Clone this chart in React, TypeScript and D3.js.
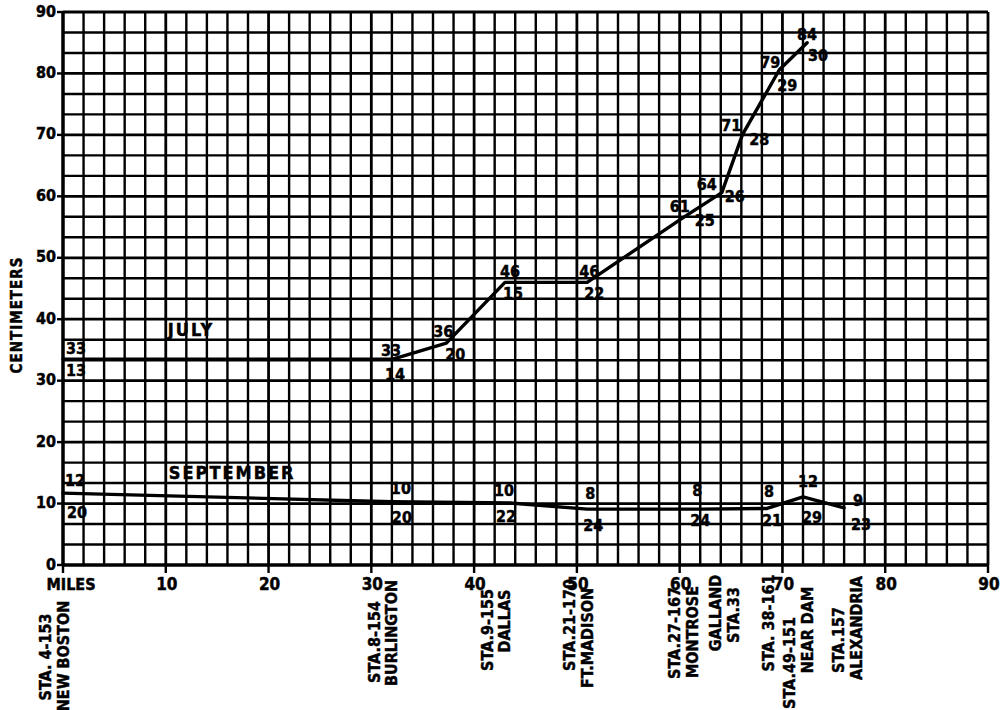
import React from "react";
import * as d3 from "d3";

// ---- Data ----
const julyMiles = [0, 32.1, 37.3, 43, 51, 60.3, 64.1, 66.1, 69.7, 72.4];
const julyCm = [33.5, 33.5, 36.1, 46, 46, 56.5, 60.6, 70, 80.6, 85];
const julyTopLabels = ["33", "33", "36", "46", "46", "61", "64", "71", "79", "84"];
const julyBottomLabels = ["13", "14", "20", "15", "22", "25", "26", "28", "29", "30"];

const septMiles = [0, 32, 43.5, 51, 62, 68.5, 72, 76];
const septCm = [11.7, 10.3, 10.1, 9.1, 9.1, 9.2, 11.1, 9.3];
const septTopLabels = ["12", "10", "10", "8", "8", "8", "12", "9"];
const septBottomLabels = ["20", "20", "22", "24", "24", "21", "29", "23"];

const xTickValues = [0, 10, 20, 30, 40, 50, 60, 70, 80, 90];
const xTickLabels = ["MILES", "10", "20", "30", "40", "50", "60", "70", "80", "90"];
const yTickValues = [0, 10, 20, 30, 40, 50, 60, 70, 80, 90];

const stationMiles = [0, 32, 43, 51, 61.2, 65.2, 68.6, 72.4, 77.2];
const stationLines = [
  ["STA. 4-153", "NEW BOSTON"],
  ["STA.8-154", "BURLINGTON"],
  ["STA.9-155", "DALLAS"],
  ["STA.21-170", "FT.MADISON"],
  ["STA.27-167", "MONTROSE"],
  ["GALLAND", "STA.33"],
  ["STA. 38-161"],
  ["STA.49-151", "NEAR DAM"],
  ["STA.157", "ALEXANDRIA"],
];

const seriesNames = ["JULY", "SEPTEMBER"];
const seriesNameAt = [
  [10.2, 38.3],
  [10.3, 15],
];
const yAxisTitle = "CENTIMETERS";

// ---- Layout ----
const W = 1005;
const H = 710;
const FONT = "'DejaVu Sans Condensed', 'DejaVu Sans', sans-serif";

// label offsets (px) relative to each point, for top / bottom number labels
const julyTopOff = [[13, -11], [-2, -9], [-3, -12], [5, -11], [2, -11], [-3, -11], [-15, -8], [-11, -9], [-9, -7], [0, -8]];
const julyBotOff = [[13, 11], [2, 15], [9, 11], [8, 11], [7, 11], [22, 3], [13, 4], [17, 5], [8, 16], [11, 13]];
const septTopOff = [[12, -13], [9, -13], [-6, -12], [3, -16], [-3, -19], [2, -17], [5, -15], [14, -7]];
const septBotOff = [[14, 19], [10, 16], [-4, 14], [6, 16], [0, 11], [5, 12], [9, 21], [17, 17]];
// vertical centre of each station label column
const stationCenters = [[657, 656], [642, 633], [630, 621], [625, 638], [633, 632], [613, 615], [623], [663, 630], [640, 628]];
const colGap = 17.5;

export default function App() {
  const x = d3.scaleLinear().domain([0, 90]).range([63, 988]);
  const y = d3.scaleLinear().domain([0, 90]).range([565, 12]);

  const mk = (miles: number[], cm: number[]) =>
    d3
      .line<number>()
      .x((m) => x(m))
      .y((_, i) => y(cm[i]))(miles) as string;

  const vGrid = d3.range(0, 90.001, 2);
  const hGrid = d3.range(0, 28).map((i) => (i * 10) / 3);

  const txt = {
    fontFamily: FONT,
    fontWeight: 700 as const,
    fill: "#000",
    stroke: "#000",
    strokeWidth: 0.45,
  };

  const numLabels = (
    miles: number[],
    cm: number[],
    top: string[],
    bot: string[],
    tOff: number[][],
    bOff: number[][],
    key: string
  ) =>
    miles.map((m, i) => (
      <g key={key + i}>
        <text
          x={x(m) + tOff[i][0]}
          y={y(cm[i]) + tOff[i][1]}
          textAnchor="middle"
          dominantBaseline="central"
          fontSize={16}
          {...txt}
        >
          {top[i]}
        </text>
        <text
          x={x(m) + bOff[i][0]}
          y={y(cm[i]) + bOff[i][1]}
          textAnchor="middle"
          dominantBaseline="central"
          fontSize={16}
          {...txt}
        >
          {bot[i]}
        </text>
      </g>
    ));

  return (
    <svg
      width={W}
      height={H}
      style={{ position: "absolute", left: 0, top: 0, background: "#fff" }}
    >
      <rect x={0} y={0} width={W} height={H} fill="#fff" />
      {/* grid */}
      <g stroke="#000">
        {vGrid.map((v) => (
          <line
            key={"v" + v}
            x1={x(v)}
            x2={x(v)}
            y1={y(0)}
            y2={y(90)}
            strokeWidth={v % 10 === 0 ? 2.8 : 2.4}
          />
        ))}
        {hGrid.map((v, i) => (
          <line
            key={"h" + i}
            x1={x(0)}
            x2={x(90)}
            y1={y(v)}
            y2={y(v)}
            strokeWidth={i % 3 === 0 ? 2.8 : 2.4}
          />
        ))}
        <line x1={x(0)} x2={x(0)} y1={y(0)} y2={y(90)} strokeWidth={3.2} />
        <line x1={x(0)} x2={x(90)} y1={y(0)} y2={y(0)} strokeWidth={3.2} />
      </g>

      {/* y ticks */}
      {yTickValues.map((v) => (
        <g key={"yt" + v}>
          <line x1={57} x2={x(0)} y1={y(v)} y2={y(v)} stroke="#000" strokeWidth={2.4} />
          <text
            x={56}
            y={y(v) - 1}
            textAnchor="end"
            dominantBaseline="central"
            fontSize={16}
            {...txt}
          >
            {v}
          </text>
        </g>
      ))}

      {/* x ticks */}
      {xTickValues.map((v, i) => (
        <g key={"xt" + v}>
          <line x1={x(v)} x2={x(v)} y1={y(0)} y2={y(0) + 8} stroke="#000" strokeWidth={2.4} />
          <text
            x={x(v) + (i === 0 ? 8 : 1)}
            y={584}
            textAnchor="middle"
            dominantBaseline="central"
            fontSize={i === 0 ? 16 : 17}
            {...txt}
          >
            {xTickLabels[i]}
          </text>
        </g>
      ))}

      {/* y axis title */}
      <text
        transform={`translate(17,315) rotate(-90)`}
        textAnchor="middle"
        dominantBaseline="central"
        fontSize={15}
        letterSpacing={1}
        {...txt}
      >
        {yAxisTitle}
      </text>

      {/* data lines */}
      <path
        d={mk(julyMiles, julyCm)}
        fill="none"
        stroke="#000"
        strokeWidth={3.4}
        strokeLinejoin="round"
        strokeLinecap="round"
      />
      <path
        d={mk(septMiles, septCm)}
        fill="none"
        stroke="#000"
        strokeWidth={3.4}
        strokeLinejoin="round"
        strokeLinecap="round"
      />

      {numLabels(julyMiles, julyCm, julyTopLabels, julyBottomLabels, julyTopOff, julyBotOff, "j")}
      {numLabels(septMiles, septCm, septTopLabels, septBottomLabels, septTopOff, septBotOff, "s")}

      {/* series names */}
      {seriesNames.map((n, i) => (
        <text
          key={n}
          x={x(seriesNameAt[i][0])}
          y={y(seriesNameAt[i][1])}
          dominantBaseline="central"
          fontSize={18}
          letterSpacing={2}
          {...txt}
        >
          {n}
        </text>
      ))}

      {/* station labels */}
      {stationMiles.map((m, si) => {
        const lines = stationLines[si];
        const n = lines.length;
        return lines.map((t, li) => {
          const cx = x(m) - (n - 1 - li) * colGap;
          const cy = stationCenters[si][li];
          return (
            <text
              key={"st" + si + "-" + li}
              transform={`translate(${cx},${cy}) rotate(-90)`}
              textAnchor="middle"
              dominantBaseline="central"
              fontSize={16}
              {...txt}
            >
              {t}
            </text>
          );
        });
      })}
    </svg>
  );
}
